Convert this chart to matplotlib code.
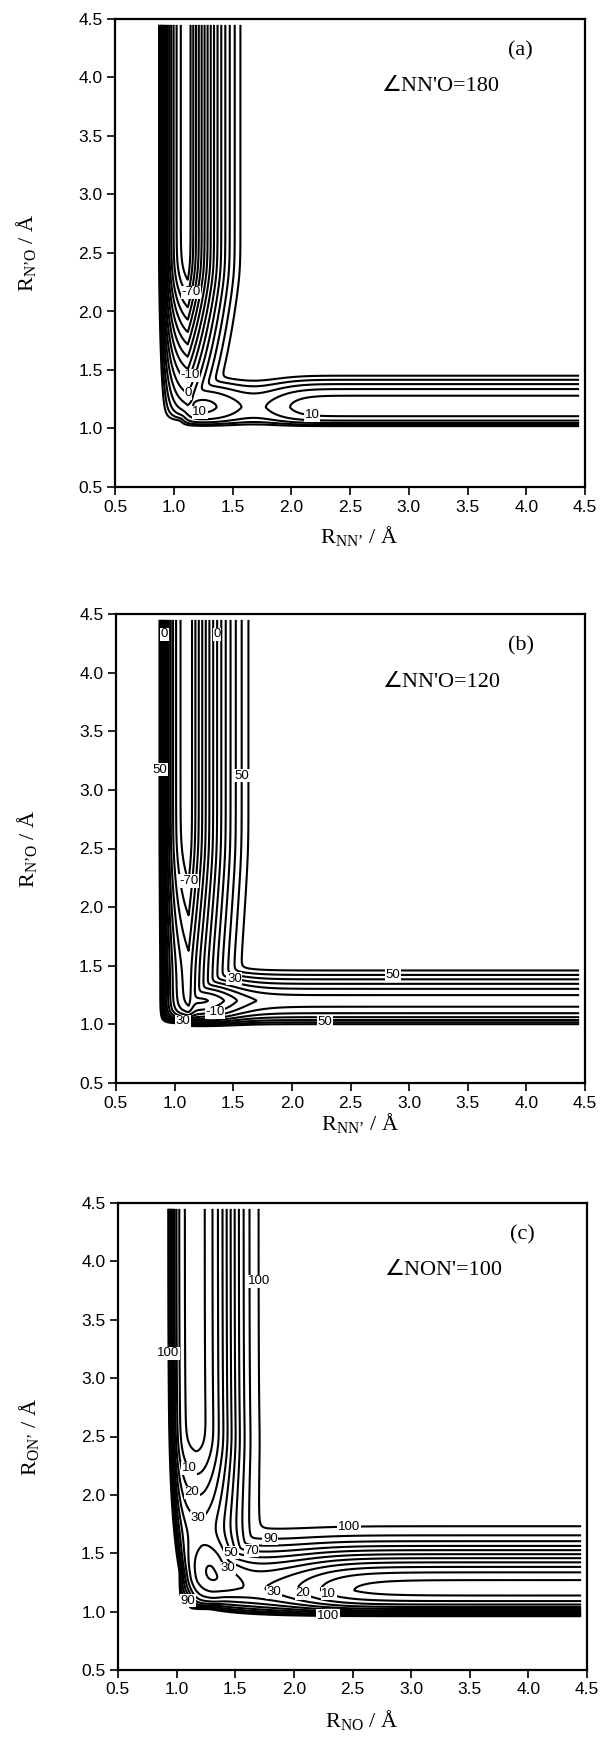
import numpy as np
import matplotlib
matplotlib.use("Agg")
import matplotlib.pyplot as plt
from matplotlib.path import Path

plt.rcParams['mathtext.fontset'] = 'custom'
plt.rcParams['mathtext.rm'] = 'Liberation Serif'
plt.rcParams['mathtext.it'] = 'Liberation Serif:italic'

# ---------------- data ----------------
TICKS = [0.5, 1.0, 1.5, 2.0, 2.5, 3.0, 3.5, 4.0, 4.5]
TICK_LABELS = ['0.5', '1.0', '1.5', '2.0', '2.5', '3.0', '3.5', '4.0', '4.5']

LEVELS_A = list(range(-90, 60, 10))
LEVELS_B = list(range(-70, 70, 10))
LEVELS_C = list(range(0, 110, 10))

# surface parameters (plateau, softness)
GLOBAL_A = [100.0, 5.0]
GLOBAL_B = [110.0, 5.0]
GLOBAL_C = [108.0, 2.5]
# vertical channel: xv, tilt, tilt_scale, floor_inf, slope, y0, round, cap, wall, ywall, swall, wR, qR, cl, wl
VERT_A = [1.12, 0.0, 0.5, -100.0, 95.0, 2.35, 0.08, 1e4, 100.0, 1.0, 0.05, 0.46, 1.0, 0.0527, 0.09]
VERT_B = [1.12, 0.0, 0.5, -80.0, 35.0, 2.5, 0.10, -45.0, 120.0, 1.0, 0.05, 0.54, 1.0, 0.0415, 0.085]
VERT_C = [1.15, 0.187, 0.51, -5.0, 55.0, 2.45, 0.06, 36.0, 100.0, 1.0, 0.05, 0.426, 2.0, 0.0112, 0.05]
# horizontal channel: yh, tilt, tilt_scale, floor_inf, shelf, xsh, wsh, bump, xs, ws, wall, swall, wT, qT, cl, wb
HORIZ_A = [1.18, 0.0, 0.3, 3.0, 0.0, 1.5, 0.1, 19.0, 1.68, 0.31, 100.0, 0.06, 0.373, 2.0, 0.0207, 0.05]
HORIZ_B = [1.2, 0.0, 0.3, 5.0, -45.0, 1.45, 0.12, 0.0, 1.7, 0.3, 100.0, 0.06, 0.372, 1.51, 0.065, 0.09]
HORIZ_C = [1.18, 0.08, 0.29, -5.0, 41.0, 2.12, 0.2, 0.0, 1.7, 0.3, 100.0, 0.06, 0.428, 2.0, 0.064, 0.08]
# wells: x0, y0, radius, depth
WELLS_A = []
WELLS_B = []
WELLS_C = [[1.33, 1.36, 0.22, 18.0]]

# contour labels (level, x, y)
LABELS_A = [(-70, 1.12, 2.17), (-10, 1.17, 1.44), (0, 1.19, 1.26), (10, 1.22, 1.15), (10, 2.18, 1.15)]
LABELS_B = [(0, 0.93, 4.33), (0, 1.39, 4.33), (50, 0.89, 3.17), (50, 1.57, 3.12), (-70, 1.11, 2.2),
            (30, 1.53, 1.5), (-10, 1.35, 1.07), (30, 1.07, 1.05), (50, 2.86, 1.42), (50, 2.28, 0.97)]
LABELS_C = [(100, 1.73, 3.83), (100, 0.93, 3.21), (10, 1.16, 2.27), (20, 1.16, 2.06), (30, 1.19, 1.82),
            (90, 1.8, 1.79), (100, 2.47, 1.76), (70, 1.65, 1.64), (50, 1.53, 1.53), (30, 1.45, 1.39),
            (30, 1.83, 1.17), (20, 2.07, 1.15), (10, 2.29, 1.13), (90, 1.11, 1.1), (100, 2.29, 0.91)]

ANGLE_TEXT = ["\u2220NN'O=180", "\u2220NN'O=120", "\u2220NON'=100"]
PANEL_TAGS = ["(a)", "(b)", "(c)"]
XLABELS = [r"R$_{\mathrm{NN’}}$ / Å", r"R$_{\mathrm{NN’}}$ / Å", r"R$_{\mathrm{NO}}$ / Å"]
YLABELS = [r"R$_{\mathrm{N’O}}$ / Å", r"R$_{\mathrm{N’O}}$ / Å", r"R$_{\mathrm{ON’}}$ / Å"]


def softmin(a, b, t):
    m = np.minimum(a, b)
    return m - t * np.log1p(np.exp(-np.abs(a - b) / t))


def channel_profile(d, w, q, cl, wl):
    right = np.tanh((np.clip(d, 0, None) / w) ** q)
    left = cl * (np.exp(np.clip(np.clip(-d, 0, None) / wl, 0, 50)) - 1.0)
    return np.where(d >= 0, right, left)


def surface(X, Y, glob, vert, horiz, wells):
    P, T = glob
    xv, gx, sx, fvi, av, y0, sv, cap, wallv, yw, swv, wR, qR, clv, wlv = vert
    yh, gy, sy, fhi, shelf, xsh, wsh, bh, xs, ws, wall, swall, wT, qT, clh, wb = horiz
    xc = xv + gx * np.exp(-(Y - 1.0) / sx)
    raw = fvi + av * sv * np.logaddexp(0.0, (y0 - Y) / sv)
    Fv = softmin(raw, cap * np.ones_like(raw), 3.0) + wallv * np.exp(-(Y - yw) / swv)
    Ev = Fv + np.clip(P - Fv, 0, None) * channel_profile(X - xc, wR, qR, clv, wlv)
    yc = yh + gy * np.exp(-(X - 1.2) / sy)
    Fh = (fhi + shelf / (1.0 + np.exp((X - xsh) / wsh)) + bh * np.exp(-((X - xs) / ws) ** 2)
          + wall * np.exp(-(X - 1.0) / swall))
    Eh = Fh + np.clip(P - Fh, 0, None) * channel_profile(Y - yc, wT, qT, clh, wb)
    E = softmin(Ev, Eh, T)
    for x0, y0w, r, D in wells:
        E = E - D * np.exp(-((X - x0) ** 2 + (Y - y0w) ** 2) / r ** 2)
    return E


def level_segments(cs, level):
    idx = list(cs.levels).index(level)
    path = cs.get_paths()[idx]
    v, c = path.vertices, path.codes
    if len(v) == 0:
        return []
    if c is None:
        return [v]
    starts = list(np.where(c == Path.MOVETO)[0]) + [len(v)]
    return [v[starts[k]:starts[k + 1]] for k in range(len(starts) - 1) if starts[k + 1] - starts[k] > 2]


def place_label(ax, cs, level, x, y):
    segs = level_segments(cs, level)
    if not segs:
        return
    target = ax.transData.transform((x, y))
    best = None
    for s in segs:
        d = ax.transData.transform(s)
        dist = np.hypot(d[:, 0] - target[0], d[:, 1] - target[1])
        k = int(np.argmin(dist))
        if best is None or dist[k] < best[0]:
            best = (dist[k], d, k)
    _, d, k = best
    px, py = ax.transData.inverted().transform(d[k])
    ax.text(px, py, '%d' % level, rotation=0, ha='center', va='center',
            fontsize=9.5, family='Liberation Sans', zorder=5,
            bbox=dict(facecolor='white', edgecolor='none', pad=0.4))


gx_ = np.linspace(0.55, 4.45, 700)
gy_ = np.linspace(0.55, 4.45, 700)
X, Y = np.meshgrid(gx_, gy_)

fig = plt.figure(figsize=(6.01, 17.39), dpi=100)

W, H = 601.0, 1739.0
boxes = [(115, 19, 585, 487), (116, 614, 585, 1083), (118, 1203, 587, 1670)]
xlabel_off = [-0.105, -0.085, -0.108]

panels = [
    (GLOBAL_A, VERT_A, HORIZ_A, WELLS_A, LEVELS_A, LABELS_A),
    (GLOBAL_B, VERT_B, HORIZ_B, WELLS_B, LEVELS_B, LABELS_B),
    (GLOBAL_C, VERT_C, HORIZ_C, WELLS_C, LEVELS_C, LABELS_C),
]

for i, (glob, vert, horiz, wells, levels, labels) in enumerate(panels):
    l, t, r, b = boxes[i]
    ax = fig.add_axes([l / W, 1 - b / H, (r - l) / W, (b - t) / H])
    ax.set_xlim(0.5, 4.5)
    ax.set_ylim(0.5, 4.5)
    Z = surface(X, Y, glob, vert, horiz, wells)
    cs = ax.contour(X, Y, Z, levels=levels, colors='black', linewidths=1.5, linestyles='solid')
    for lev, lx, ly in labels:
        place_label(ax, cs, lev, lx, ly)
    ax.set_xticks(TICKS)
    ax.set_yticks(TICKS)
    ax.set_xticklabels(TICK_LABELS)
    ax.set_yticklabels(TICK_LABELS)
    ax.tick_params(direction='out', length=6, width=1.2, labelsize=12.5, pad=3)
    for lab in ax.get_xticklabels() + ax.get_yticklabels():
        lab.set_family('Liberation Sans')
    for sp in ax.spines.values():
        sp.set_linewidth(1.6)
    ax.set_xlabel(XLABELS[i], fontsize=16, family='Liberation Serif', va='center')
    ax.set_ylabel(YLABELS[i], fontsize=16, family='Liberation Serif', va='center')
    ax.xaxis.set_label_coords(0.52, xlabel_off[i])
    ax.yaxis.set_label_coords(-0.19, 0.5)
    ax.text(3.95, 4.23, PANEL_TAGS[i], fontsize=16, family=['Liberation Serif', 'DejaVu Sans'],
            ha='center', va='center')
    ax.text(3.27, 3.92, ANGLE_TEXT[i], fontsize=16, family=['Liberation Serif', 'DejaVu Sans'],
            ha='center', va='center')

fig.savefig("out.png", dpi=100)
